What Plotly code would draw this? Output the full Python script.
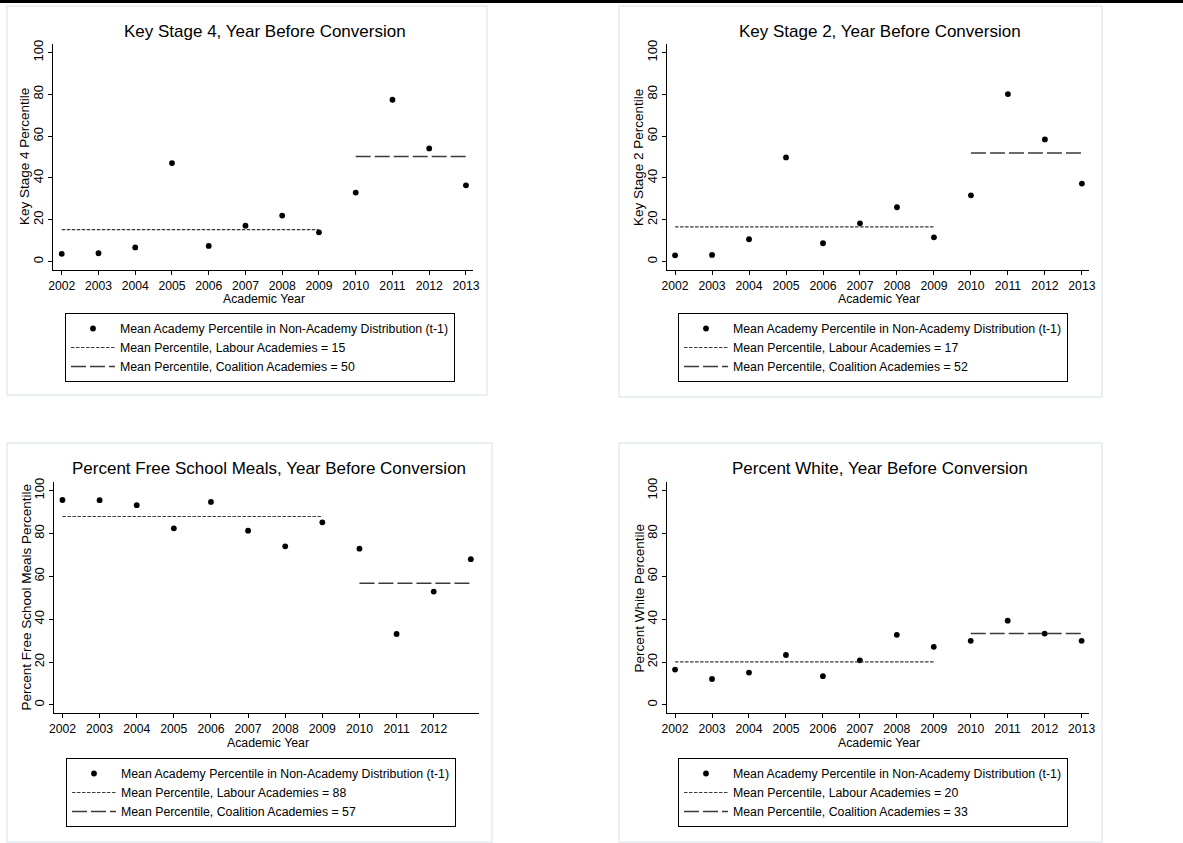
import plotly.graph_objects as go

# ---------------- data ----------------
years = [2002, 2003, 2004, 2005, 2006, 2007, 2008, 2009, 2010, 2011, 2012, 2013]
ks4_pct = [3.7, 4.0, 6.8, 47.1, 7.5, 17.2, 22.0, 14.0, 33.0, 77.4, 54.1, 36.5]
ks2_pct = [3.0, 3.2, 10.7, 49.8, 8.8, 18.3, 26.0, 11.6, 31.7, 80.1, 58.4, 37.3]
fsm_pct = [95.6, 95.5, 93.2, 82.4, 94.7, 81.3, 74.0, 85.2, 72.9, 33.1, 52.9, 68.0]
white_pct = [16.5, 12.1, 15.1, 23.3, 13.4, 20.8, 32.7, 27.1, 29.9, 39.3, 33.3, 29.9]
labour_years = [2002, 2003, 2004, 2005, 2006, 2007, 2008, 2009]
coalition_years = [2010, 2011, 2012, 2013]
labour_means = [15.3, 16.6, 87.9, 20.1]
coalition_means = [50.3, 51.9, 56.8, 33.3]
panel_titles = [
    "Key Stage 4, Year Before Conversion",
    "Key Stage 2, Year Before Conversion",
    "Percent Free School Meals, Year Before Conversion",
    "Percent White, Year Before Conversion",
]
y_titles = [
    "Key Stage 4 Percentile",
    "Key Stage 2 Percentile",
    "Percent Free School Meals Percentile",
    "Percent White Percentile",
]
x_title = "Academic Year"
y_ticks = [0, 20, 40, 60, 80, 100]
x_ticks_panels = [years, years, years[:-1], years]
series = [ks4_pct, ks2_pct, fsm_pct, white_pct]

# ---------------- layout geometry (pixels) ----------------
W, H = 1183, 843
FONT = "Liberation Sans, Arial, Helvetica, sans-serif"


def px(x):
    return x / W


def py(y):
    return 1 - y / H


panels = [
    dict(xd=(53.3, 473.3), yd=(44.3, 270), xr=(2001.77, 2013.2), yr=(-4.0, 103.9),
         frame=(7, 6, 487, 395), title=(265, 32), leg=(65, 313),
         ytl=(25, 157), xtl=(264, 299)),
    dict(xd=(667.3, 1089.3), yd=(44.3, 270), xr=(2001.79, 2013.2), yr=(-4.0, 103.9),
         frame=(619, 6, 1102, 397), title=(880, 32), leg=(678, 313),
         ytl=(639, 157), xtl=(878.5, 299)),
    dict(xd=(54.3, 479.0), yd=(482, 713.3), xr=(2001.78, 2013.22), yr=(-3.9, 104.0),
         frame=(7, 443, 492, 842), title=(269, 468), leg=(66, 758),
         ytl=(26, 597.5), xtl=(267.5, 742.5)),
    dict(xd=(667.3, 1089.0), yd=(482, 713.3), xr=(2001.79, 2013.2), yr=(-3.9, 104.0),
         frame=(619, 443, 1102, 842), title=(880, 468), leg=(678, 758),
         ytl=(639, 597.5), xtl=(878.5, 742.5)),
]

fig = go.Figure()
shapes = []
annotations = []
layout = dict(
    width=W, height=H, autosize=False,
    margin=dict(l=0, r=0, t=0, b=0, pad=0, autoexpand=False),
    paper_bgcolor="white", plot_bgcolor="white",
    font=dict(family=FONT, size=12, color="black"),
)

for i, p in enumerate(panels):
    n = i + 1
    sfx = "" if n == 1 else str(n)
    xa, ya = "x" + sfx, "y" + sfx
    leg = "legend" + sfx

    fig.add_trace(go.Scatter(
        x=years, y=series[i], mode="markers", xaxis=xa, yaxis=ya, legend=leg,
        name="Mean Academy Percentile in Non-Academy Distribution (t-1)",
        marker=dict(color="black", size=5.8, symbol="circle"),
        hoverinfo="x+y"))
    fig.add_trace(go.Scatter(
        x=labour_years, y=[labour_means[i]] * len(labour_years), mode="lines",
        xaxis=xa, yaxis=ya, legend=leg,
        name=f"Mean Percentile, Labour Academies = {round(labour_means[i])}",
        line=dict(color="#3a3a3a", width=1.2, dash="3.5px,1.5px")))
    fig.add_trace(go.Scatter(
        x=coalition_years, y=[coalition_means[i]] * len(coalition_years), mode="lines",
        xaxis=xa, yaxis=ya, legend=leg,
        name=f"Mean Percentile, Coalition Academies = {round(coalition_means[i])}",
        line=dict(color="#3a3a3a", width=1.5, dash="15px,4px")))

    common = dict(showline=True, linecolor="black", linewidth=1, ticks="outside",
                  ticklen=4, tickcolor="black", tickwidth=1, showgrid=False,
                  zeroline=False, fixedrange=True, automargin=False)
    layout["xaxis" + sfx] = dict(
        common, domain=[px(p["xd"][0]), px(p["xd"][1])], range=list(p["xr"]),
        anchor=ya, tickmode="array", tickvals=x_ticks_panels[i],
        ticktext=[str(t) for t in x_ticks_panels[i]],
        tickfont=dict(family=FONT, size=12.2, color="black"))
    layout["yaxis" + sfx] = dict(
        common, domain=[py(p["yd"][1]), py(p["yd"][0])], range=list(p["yr"]),
        anchor=xa, tickmode="array", tickvals=y_ticks, tickangle=-90,
        tickfont=dict(family=FONT, size=13, color="black"))

    layout[leg] = dict(
        x=px(p["leg"][0]), y=py(p["leg"][1]), xanchor="left", yanchor="top",
        bgcolor="white", bordercolor="black", borderwidth=1,
        font=dict(family=FONT, size=12.3, color="black"),
        itemwidth=44, tracegroupgap=0, traceorder="normal")

    fx0, fy0, fx1, fy1 = p["frame"]
    shapes.append(dict(type="rect", xref="paper", yref="paper",
                       x0=px(fx0), x1=px(fx1), y0=py(fy1), y1=py(fy0),
                       line=dict(color="#e3ebf0", width=1.5), layer="below"))
    tx, ty = p["title"]
    annotations.append(dict(text=panel_titles[i], xref="paper", yref="paper",
                            x=px(tx), y=py(ty), xanchor="center", yanchor="middle",
                            showarrow=False, font=dict(family=FONT, size=17, color="black")))
    yx, yy = p["ytl"]
    annotations.append(dict(text=y_titles[i], xref="paper", yref="paper",
                            x=px(yx), y=py(yy), xanchor="center", yanchor="middle",
                            textangle=-90, showarrow=False,
                            font=dict(family=FONT, size=13.5, color="black")))
    xx, xy = p["xtl"]
    annotations.append(dict(text=x_title, xref="paper", yref="paper",
                            x=px(xx), y=py(xy), xanchor="center", yanchor="middle",
                            showarrow=False,
                            font=dict(family=FONT, size=12.3, color="black")))

# thin black strip at top edge of the image
shapes.append(dict(type="rect", xref="paper", yref="paper", x0=0, x1=1,
                   y0=py(3), y1=1, fillcolor="black", line=dict(width=0)))

layout["shapes"] = shapes
layout["annotations"] = annotations
layout["showlegend"] = True
fig.update_layout(**layout)

fig.write_html(
    "out.html", include_plotlyjs=True,
    config={"displayModeBar": False, "responsive": False},
    post_script="document.body.style.margin='0';document.body.style.padding='0';"
                "document.body.style.overflow='hidden';")
